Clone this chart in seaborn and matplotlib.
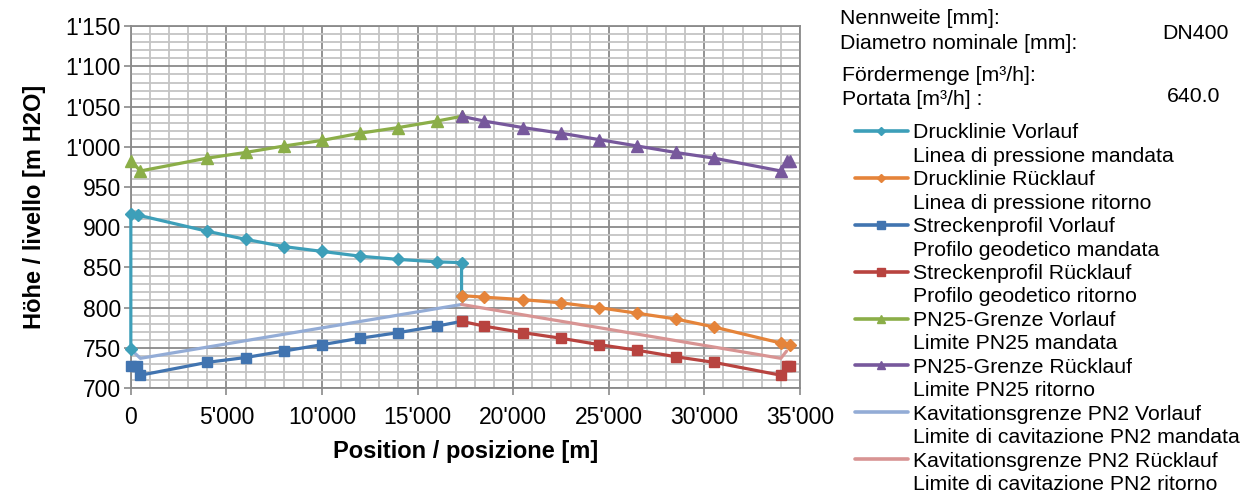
import matplotlib
matplotlib.use("Agg")
import matplotlib.pyplot as plt
import seaborn as sns
from matplotlib.lines import Line2D
from matplotlib.ticker import FuncFormatter, MultipleLocator

# Drucklinie Vorlauf / Linea di pressione mandata
dv_x = [0, 0, 400, 4000, 6000, 8000, 10000, 12000, 14000, 16000, 17300, 17300]
dv_y = [748, 917, 915, 895, 885, 876, 870, 864, 860, 857, 856, 814]
# Drucklinie Rücklauf / Linea di pressione ritorno
dr_x = [17300, 18500, 20500, 22500, 24500, 26500, 28500, 30500, 34000, 34500]
dr_y = [815, 813, 810, 806, 800, 793, 786, 776, 756, 753]
# Streckenprofil Vorlauf / Profilo geodetico mandata
sv_x = [0, 300, 500, 4000, 6000, 8000, 10000, 12000, 14000, 16000, 17300]
sv_y = [728, 727, 716, 732, 738, 746, 754, 762, 769, 777, 783]
# Streckenprofil Rücklauf / Profilo geodetico ritorno
sr_x = [17300, 18500, 20500, 22500, 24500, 26500, 28500, 30500, 34000, 34300, 34500]
sr_y = [783, 777, 769, 762, 754, 747, 739, 732, 716, 727, 728]
# PN25-Grenze Vorlauf / Limite PN25 mandata
gv_x = [0, 500, 4000, 6000, 8000, 10000, 12000, 14000, 16000, 17300]
gv_y = [983, 970, 986, 993, 1001, 1008, 1017, 1024, 1032, 1038]
# PN25-Grenze Rücklauf / Limite PN25 ritorno
gr_x = [17300, 18500, 20500, 22500, 24500, 26500, 28500, 30500, 34000, 34300, 34500]
gr_y = [1038, 1032, 1024, 1017, 1009, 1001, 993, 986, 970, 982, 983]
# Kavitationsgrenze PN2 Vorlauf / Limite di cavitazione PN2 mandata
kv_x = [0, 500, 17300]
kv_y = [748, 737, 804]
# Kavitationsgrenze PN2 Rücklauf / Limite di cavitazione PN2 ritorno
kr_x = [17300, 34000, 34300]
kr_y = [804, 737, 746]

series = [
    (dv_x, dv_y, "#3d9fb9", "D", 6, "Drucklinie Vorlauf", "Linea di pressione mandata"),
    (dr_x, dr_y, "#e5843a", "D", 6, "Drucklinie Rücklauf", "Linea di pressione ritorno"),
    (sv_x, sv_y, "#4174b0", "s", 7.5, "Streckenprofil Vorlauf", "Profilo geodetico mandata"),
    (sr_x, sr_y, "#b8433f", "s", 7.5, "Streckenprofil Rücklauf", "Profilo geodetico ritorno"),
    (gv_x, gv_y, "#8bae48", "^", 8.5, "PN25-Grenze Vorlauf", "Limite PN25 mandata"),
    (gr_x, gr_y, "#77589c", "^", 8.5, "PN25-Grenze Rücklauf", "Limite PN25 ritorno"),
    (kv_x, kv_y, "#93acd6", None, 0, "Kavitationsgrenze PN2 Vorlauf", "Limite di cavitazione PN2 mandata"),
    (kr_x, kr_y, "#d89493", None, 0, "Kavitationsgrenze PN2 Rücklauf", "Limite di cavitazione PN2 ritorno"),
]

sns.set_theme(style="white")
plt.rcParams['font.family'] = ['Liberation Sans', 'DejaVu Sans']
plt.rcParams['text.color'] = 'black'
plt.rcParams['axes.labelcolor'] = 'black'

fig = plt.figure(figsize=(12.46, 4.95), dpi=100)
ax = fig.add_axes([0.105, 0.216, 0.537, 0.731])

# draw back to front like the original (kavitation under the profiles)
order = [6, 7, 2, 3, 0, 1, 4, 5]
for i in order:
    x, y, c, m, ms, de, it = series[i]
    sns.lineplot(x=x, y=y, ax=ax, sort=False, estimator=None, color=c,
                 linewidth=2.3, marker=m, markersize=ms, markeredgecolor=c,
                 markeredgewidth=1, clip_on=False, zorder=3)

ax.set_xlim(0, 35000)
ax.set_ylim(700, 1150)
ax.xaxis.set_major_locator(MultipleLocator(5000))
ax.xaxis.set_minor_locator(MultipleLocator(1000))
ax.yaxis.set_major_locator(MultipleLocator(50))
ax.yaxis.set_minor_locator(MultipleLocator(10))
fmt = FuncFormatter(lambda v, p: f"{v:,.0f}".replace(",", "'"))
ax.xaxis.set_major_formatter(fmt)
ax.yaxis.set_major_formatter(fmt)

ax.grid(which="minor", color="#c4c4c4", linewidth=1.3)
ax.grid(which="major", color="#8a8a8a", linewidth=1.3)
ax.set_axisbelow(True)
for s in ax.spines.values():
    s.set_color("#8a8a8a")
    s.set_linewidth(1.3)

ax.tick_params(axis="both", which="major", labelsize=16.5, labelcolor="black",
               length=5, width=1.2, direction="out", color="#8a8a8a",
               left=True, bottom=True)
ax.tick_params(axis="x", pad=8)
ax.tick_params(axis="y", pad=2)
ax.set_xlabel("Position / posizione [m]", fontsize=17, fontweight="bold", labelpad=8)
ax.set_ylabel("Höhe / livello [m H2O]", fontsize=17, fontweight="bold", labelpad=14)

# legend: German line with handle, Italian line below without handle
handles, labels = [], []
for x, y, c, m, ms, de, it in series:
    handles.append(Line2D([], [], color=c, linewidth=2.6, marker=m,
                          markersize=ms * 0.75 if m else 0, markeredgecolor=c))
    labels.append(de)
    handles.append(Line2D([], [], linestyle="none"))
    labels.append(it)

fig.legend(handles, labels, loc="upper left", bbox_to_anchor=(0.686, 0.751),
           frameon=False, fontsize=15.3, handlelength=2.5, handletextpad=0.25,
           labelspacing=0.21, borderpad=0, borderaxespad=0)

fig.text(0.674, 0.963, "Nennweite [mm]:", fontsize=15.3, va="center")
fig.text(0.674, 0.912, "Diametro nominale [mm]:", fontsize=15.3, va="center")
fig.text(0.986, 0.932, "DN400", fontsize=15.3, va="center", ha="right")
fig.text(0.676, 0.848, "Fördermenge [m³/h]:", fontsize=15.3, va="center")
fig.text(0.676, 0.798, "Portata [m³/h] :", fontsize=15.3, va="center")
fig.text(0.979, 0.806, "640.0", fontsize=15.3, va="center", ha="right")

fig.savefig("out.png", dpi=100)
